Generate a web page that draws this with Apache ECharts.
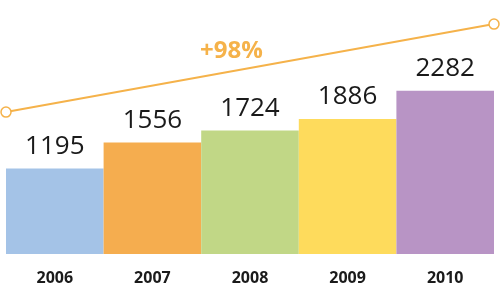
<!DOCTYPE html>
<html><head><meta charset="utf-8">
<script src="https://cdn.jsdelivr.net/npm/echarts@6/dist/echarts.min.js"></script>
<style>html,body{margin:0;padding:0;background:#fff}#c{width:500px;height:294px}</style>
</head><body><div id="c"></div>
<script>
const years = ['2006','2007','2008','2009','2010'];
const values = [1195, 1556, 1724, 1886, 2282];
const barColors = ['#a4c3e7','#f5ad4f','#c1d786','#fedb5c','#b894c5'];
const trendX = [0, 1];
const trendY = [0, 98];
const trendLabel = '+98%';

const chart = echarts.init(document.getElementById('c'), null, {renderer:'canvas'});
chart.setOption({
  animation:false,
  grid:{left:6,right:6,top:16,bottom:40,containLabel:false,outerBoundsMode:'none'},
  xAxis:[
    {type:'category',data:years,axisLine:{show:false},axisTick:{show:false},
     axisLabel:{margin:16,fontSize:16,fontWeight:'bold',color:'#1a1a1a',fontFamily:"'Open Sans', sans-serif"}},
    {type:'value',min:0,max:1,show:false}
  ],
  yAxis:[
    {type:'value',min:0,max:3325,show:false,splitLine:{show:false}},
    {type:'value',min:-158,max:107,show:false,splitLine:{show:false}}
  ],
  series:[
    {type:'bar',barWidth:'100%',barCategoryGap:'0%',
     data:values.map((v,i)=>({value:v,itemStyle:{color:barColors[i]}})),
     label:{show:true,position:'top',distance:9,fontSize:26,color:'#1a1a1a',
       fontFamily:"'Open Sans', sans-serif"}},
    {type:'line',xAxisIndex:1,yAxisIndex:1,clip:false,
     data:trendX.map((x,i)=>[x,trendY[i]]),
     symbol:'circle',symbolSize:10,
     itemStyle:{color:'#fff',borderColor:'#f5b24a',borderWidth:1.5},
     lineStyle:{color:'#f5b24a',width:2},
     z:5}
  ],
  graphic:[{type:'text',left:200,top:39,
    style:{text:trendLabel,fontSize:24,fontWeight:'bold',fill:'#f5b24a',fontFamily:"'Open Sans', sans-serif"}}]
});
</script></body></html>
